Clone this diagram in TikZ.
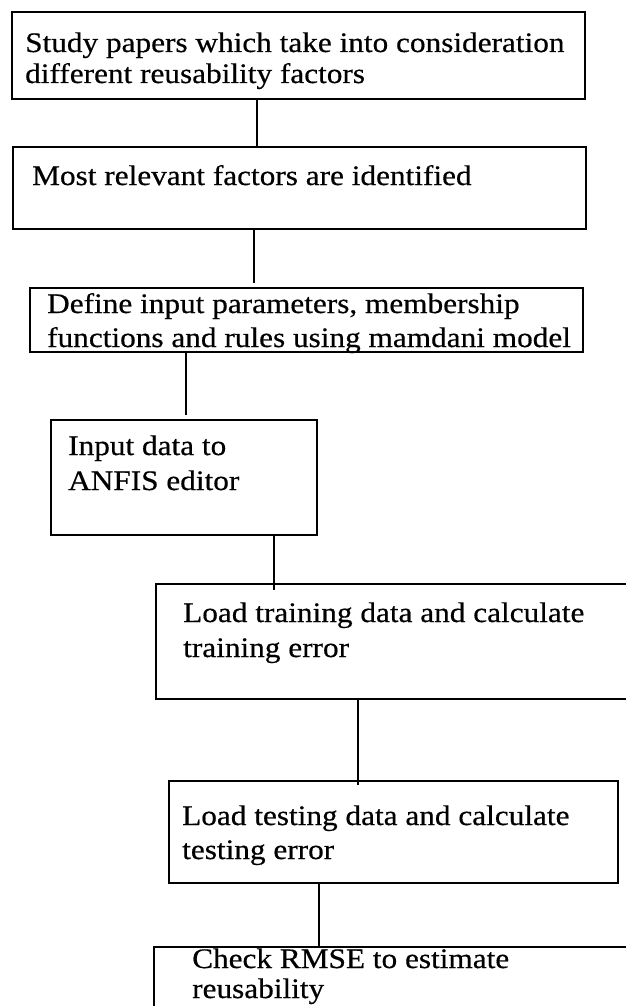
\documentclass[tikz,border=0pt]{standalone}
\usepackage{fontspec}
\setmainfont{Liberation Serif}[FakeStretch=1.105,FakeBold=0.5]
\begin{document}
\begin{tikzpicture}[x=1pt,y=-1pt,
  box/.style={draw, line width=1.8pt, rectangle, inner sep=0pt, outer sep=0pt, anchor=north west},
  txt/.style={anchor=base west, inner sep=0pt, font=\fontsize{28.3}{34}\selectfont},
  link/.style={line width=1.8pt}]
\useasboundingbox (0,0) rectangle (626,1006);
\clip (0,0) rectangle (626,1006);
% boxes
\node[box, minimum width=573pt, minimum height=87pt] (b1) at (12,12) {};
\node[box, minimum width=573pt, minimum height=82pt] (b2) at (13,147) {};
\node[box, minimum width=553pt, minimum height=64pt] (b3) at (30,288) {};
\node[box, minimum width=266pt, minimum height=115pt] (b4) at (51,420) {};
\node[box, minimum width=480pt, minimum height=115pt] (b5) at (156,584) {};
\node[box, minimum width=449pt, minimum height=102pt] (b6) at (169,781) {};
\node[box, minimum width=480pt, minimum height=100pt] (b7) at (154,947) {};
% texts
\node[txt] (t1a) at (25,52) {Study papers which take into consideration};
\node[txt] (t1b) at (25,83) {different reusability factors};
\node[txt] (t2) at (32,185) {Most relevant factors are identified};
\node[txt] (t3a) at (47,313) {Define input parameters, membership};
\node[txt] (t3b) at (47,347) {functions and rules using mamdani model};
\node[txt] (t4a) at (68,455) {Input data to};
\node[txt] (t4b) at (68,490) {ANFIS editor};
\node[txt] (t5a) at (183,622) {Load training data and calculate};
\node[txt] (t5b) at (183,657) {training error};
\node[txt] (t6a) at (182,825) {Load testing data and calculate};
\node[txt] (t6b) at (182,859) {testing error};
\node[txt] (t7a) at (192,968) {Check RMSE to estimate};
\node[txt] (t7b) at (192,998) {reusability};
% connectors
\coordinate (x12) at (257,0);
\coordinate (x23) at (254,0);
\coordinate (x34) at (186,0);
\coordinate (x45) at (274,0);
\coordinate (x56) at (358,0);
\coordinate (x67) at (319,0);
\draw[link] (b1.south -| x12) -- (b2.north -| x12);
\draw[link, shorten >=5pt] (b2.south -| x23) -- (b3.north -| x23);
\draw[link, shorten >=5pt] (b3.south -| x34) -- (b4.north -| x34);
\draw[link, shorten >=-6pt] (b4.south -| x45) -- (b5.north -| x45);
\draw[link, shorten >=-4pt] (b5.south -| x56) -- (b6.north -| x56);
\draw[link] (b6.south -| x67) -- (b7.north -| x67);
\end{tikzpicture}
\end{document}
